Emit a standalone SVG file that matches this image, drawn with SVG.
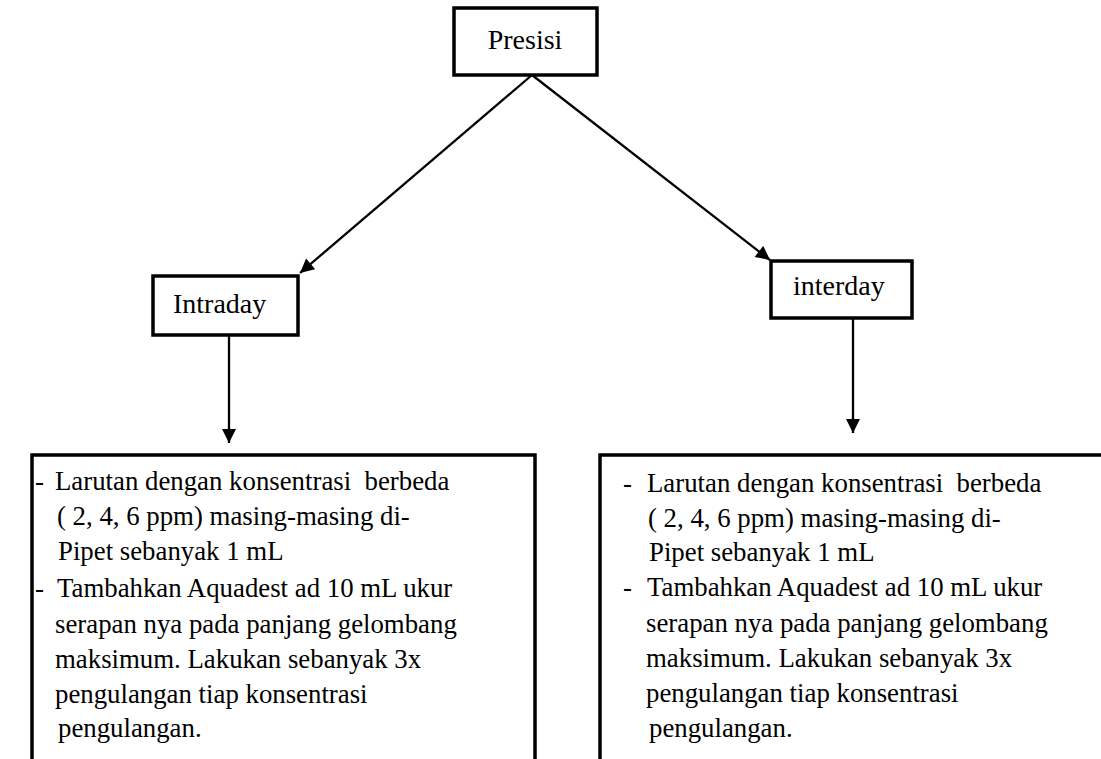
<svg xmlns="http://www.w3.org/2000/svg" width="1101" height="759" viewBox="0 0 1101 759">
<style>
.box{fill:#fff;stroke:#000;stroke-width:3.5}
.t{font-family:"Liberation Serif","Times New Roman",serif;fill:#000;white-space:pre}
.h{font-size:28px}
.b{font-size:26.8px}
.c{stroke:#000;stroke-width:2.3;fill:none}
</style>
<defs>
<marker id="arr" viewBox="0 0 10 10" refX="10" refY="5" markerWidth="15" markerHeight="14" markerUnits="userSpaceOnUse" orient="auto">
<path d="M0,0 L10,5 L0,10 z" fill="#000"/>
</marker>
</defs>
<rect width="1101" height="759" fill="#fff"/>
<g id="connectors">
<line class="c" x1="532" y1="75" x2="300" y2="273" marker-end="url(#arr)"/>
<line class="c" x1="532" y1="75" x2="770" y2="260" marker-end="url(#arr)"/>
<line class="c" x1="229" y1="335" x2="229" y2="443" marker-end="url(#arr)"/>
<line class="c" x1="853" y1="318" x2="853" y2="433" marker-end="url(#arr)"/>
</g>
<g id="presisi">
<rect class="box" x="454" y="8" width="143" height="67"/>
<text class="t h" x="525" y="49" text-anchor="middle">Presisi</text>
</g>
<g id="intraday">
<rect class="box" x="153" y="276" width="145" height="59"/>
<text class="t h" x="173" y="313">Intraday</text>
</g>
<g id="interday">
<rect class="box" x="771" y="261" width="141" height="57"/>
<text class="t h" x="793" y="295">interday</text>
</g>
<g id="intraday-steps">
<rect class="box" x="32" y="455" width="503" height="320"/>
<text class="t b" x="35" y="490">-</text>
<text class="t b" x="55" y="490" xml:space="preserve">Larutan dengan konsentrasi  berbeda</text>
<text class="t b" x="57" y="525">( 2, 4, 6 ppm) masing-masing di-</text>
<text class="t b" x="58" y="560">Pipet sebanyak 1 mL</text>
<text class="t b" x="35" y="597">-</text>
<text class="t b" x="57" y="597">Tambahkan Aquadest ad 10 mL ukur</text>
<text class="t b" x="55" y="633">serapan nya pada panjang gelombang</text>
<text class="t b" x="55" y="668">maksimum. Lakukan sebanyak 3x</text>
<text class="t b" x="55" y="703">pengulangan tiap konsentrasi</text>
<text class="t b" x="58" y="737">pengulangan.</text>
</g>
<g id="interday-steps">
<rect class="box" x="600" y="455" width="520" height="320"/>
<text class="t b" x="623" y="492">-</text>
<text class="t b" x="647" y="492" xml:space="preserve">Larutan dengan konsentrasi  berbeda</text>
<text class="t b" x="648" y="527">( 2, 4, 6 ppm) masing-masing di-</text>
<text class="t b" x="649" y="561">Pipet sebanyak 1 mL</text>
<text class="t b" x="623" y="596">-</text>
<text class="t b" x="647" y="596">Tambahkan Aquadest ad 10 mL ukur</text>
<text class="t b" x="646" y="632">serapan nya pada panjang gelombang</text>
<text class="t b" x="646" y="667">maksimum. Lakukan sebanyak 3x</text>
<text class="t b" x="646" y="702">pengulangan tiap konsentrasi</text>
<text class="t b" x="649" y="737">pengulangan.</text>
</g>
</svg>
